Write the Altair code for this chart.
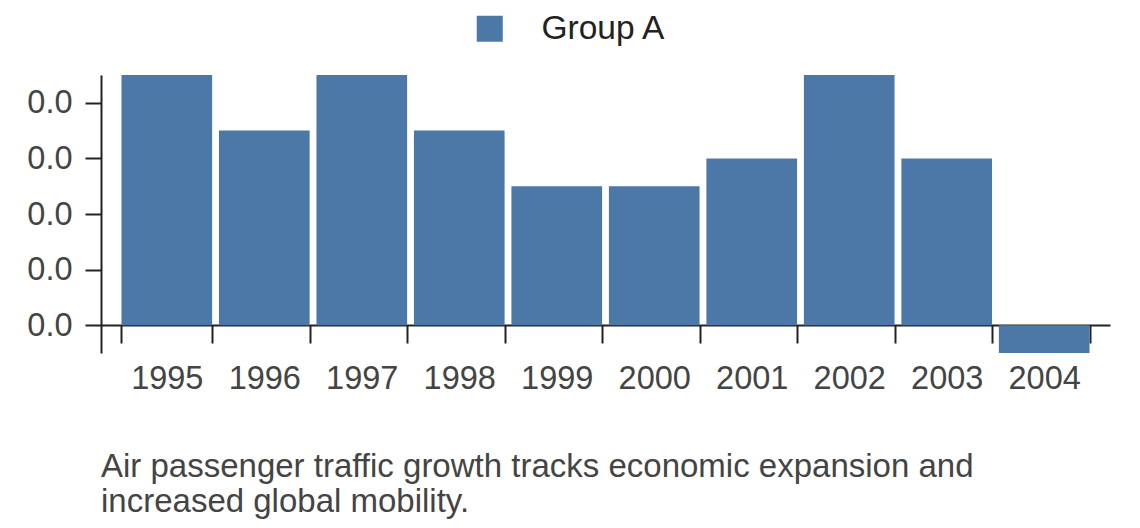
import altair as alt
import pandas as pd

years = ["1995", "1996", "1997", "1998", "1999", "2000", "2001", "2002", "2003", "2004"]
values = [0.045, 0.035, 0.045, 0.035, 0.025, 0.025, 0.030, 0.045, 0.030, -0.005]
group = ["Group A"] * len(years)
y_ticks = [0.0, 0.01, 0.02, 0.03, 0.04]
caption = ["Air passenger traffic growth tracks economic expansion and",
           "increased global mobility."]

df = pd.DataFrame({"year": years, "value": values, "group": group})

FONT = "Liberation Sans"

chart = alt.Chart(df).mark_bar(color="#4c78a8").encode(
    x=alt.X("year:N", sort=years,
            scale=alt.Scale(paddingInner=0.07, paddingOuter=0.21),
            axis=alt.Axis(title=None, labelAngle=0, tickBand="extent",
                          tickSize=18, tickWidth=2, domainWidth=2,
                          domainColor="#222222", tickColor="#222222",
                          labelFontSize=32.5, labelColor="#444444", labelFont=FONT,
                          labelPadding=19, offset=-28)),
    y=alt.Y("value:Q", scale=alt.Scale(domain=[-0.005, 0.045], nice=False, zero=False),
            axis=alt.Axis(title=None, values=y_ticks, format=".1f", grid=False,
                          tickSize=16, tickWidth=2, domainWidth=2,
                          domainColor="#222222", tickColor="#222222",
                          labelFontSize=32.5, labelColor="#444444", labelFont=FONT,
                          labelPadding=13)),
    color=alt.Color("group:N", scale=alt.Scale(range=["#4c78a8"]),
                    legend=alt.Legend(title=None, orient="none", legendX=372, legendY=-63,
                                      symbolType="square", symbolSize=676,
                                      symbolStrokeWidth=0, labelOffset=35,
                                      labelFontSize=33.5, labelColor="#222222",
                                      labelFont=FONT, padding=0)),
).properties(
    width=1009,
    height=278,
    autosize="none",
    padding={"left": 93, "top": 67, "right": 22, "bottom": 167},
    title=alt.TitleParams(caption, orient="bottom", anchor="start", frame="group",
                          fontSize=33, font=FONT, fontWeight="normal",
                          color="#444444", lineHeight=35, offset=56),
).configure_view(stroke=None)

chart.save("out.html", embed_options={"renderer": "svg", "actions": False})
